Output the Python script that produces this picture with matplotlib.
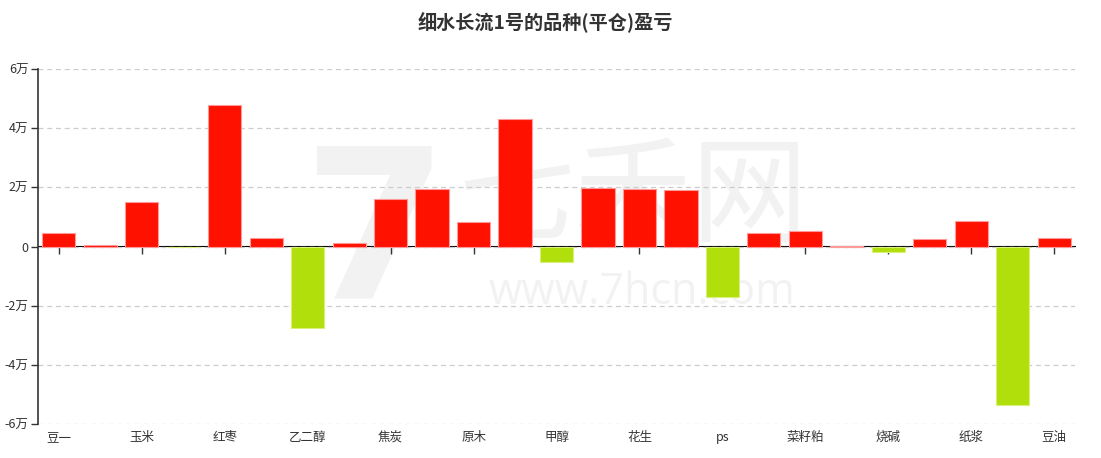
import matplotlib
matplotlib.use("Agg")
import matplotlib.pyplot as plt
from matplotlib.ticker import FixedLocator, FuncFormatter

plt.rcParams['font.family'] = ['Noto Sans CJK SC', 'DejaVu Sans']

# 25 varieties, only every other one is labelled on the axis
shown_labels = ['豆一', '玉米', '红枣', '乙二醇', '焦炭', '原木', '甲醇',
                '花生', 'ps', '菜籽粕', '烧碱', '纸浆', '豆油']
# profit / loss (yuan)
pnl = [4400, 400, 15100, 0, 48000, 3000, -27700, 1300, 15900, 19400,
       8400, 43000, -5400, 19900, 19600, 19200, -17000, 4400, 5100, 300,
       -1800, 2600, 8700, -53600, 3000]
y_ticks = [-60000, -40000, -20000, 0, 20000, 40000, 60000]

RED = '#ff1100'
GREEN = '#b1df0b'
WM = '#f2f2f2'

fig = plt.figure(figsize=(11.01, 4.58), dpi=100)
ax = fig.add_axes([38 / 1101, 34 / 458, 1037 / 1101, 355 / 458])

# watermark
ax.text(0.326, 0.52, '7', transform=ax.transAxes, fontsize=150, fontweight='bold',
        color=WM, ha='center', va='center', family='DejaVu Sans', zorder=0)
ax.text(0.574, 0.63, '七禾网', transform=ax.transAxes, fontsize=84,
        color=WM, ha='center', va='center', zorder=0)
ax.text(0.582, 0.37, 'www.7hcn.com', transform=ax.transAxes, fontsize=31,
        color=WM, ha='center', va='center', family='Open Sans', zorder=0)

x = list(range(len(pnl)))
colors = [RED if v > 0 else GREEN for v in pnl]
edges = ['#ff9a9a' if v > 0 else '#d6f07a' for v in pnl]
ax.bar(x, pnl, width=0.8, color=colors, edgecolor=edges, linewidth=0.8, zorder=3)

ax.set_xlim(-0.5, len(pnl) - 0.5)
ax.set_ylim(-60000, 60000)

ax.yaxis.set_major_locator(FixedLocator(y_ticks))
ax.yaxis.set_major_formatter(FuncFormatter(lambda v, p: '0' if v == 0 else f'{int(v / 10000)}万'))
ax.grid(axis='y', linestyle=(0, (4, 3)), color='#cccccc', linewidth=0.9, zorder=1)

label_pos = x[::2]
ax.set_xticks(label_pos)
ax.set_xticklabels(shown_labels)
ax.tick_params(axis='x', length=0, pad=5, labelsize=9, labelcolor='#333333')
ax.tick_params(axis='y', length=5, width=1, color='#333333', labelsize=9,
               labelcolor='#333333', pad=2)

for s in ['top', 'right', 'bottom']:
    ax.spines[s].set_visible(False)
ax.spines['left'].set_color('#333333')
ax.spines['left'].set_linewidth(1.2)

# zero axis with its own tick marks
zero_ax = ax.secondary_xaxis(0.5)
zero_ax.set_xticks(label_pos)
zero_ax.tick_params(axis='x', direction='out', length=5, width=1, color='#333333',
                    labelbottom=False, labeltop=False, top=False, bottom=True)
zero_ax.spines['bottom'].set_color('#333333')
zero_ax.spines['bottom'].set_linewidth(1.2)
zero_ax.spines['bottom'].set_zorder(5)

fig.text(0.495, 0.952, '细水长流1号的品种(平仓)盈亏', ha='center', va='center',
         fontsize=13.8, fontweight='bold', color='#333333')

fig.savefig('out.png', dpi=100)
